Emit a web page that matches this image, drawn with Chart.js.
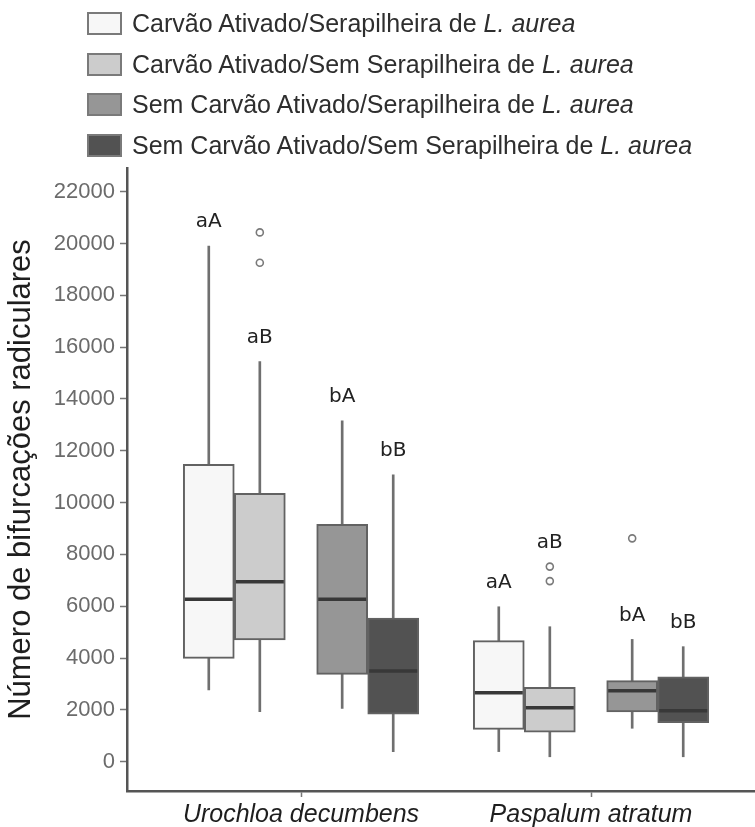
<!DOCTYPE html>
<html lang="pt">
<head>
<meta charset="utf-8">
<title>Bifurcações radiculares</title>
<script src="https://cdn.jsdelivr.net/npm/chart.js@4.4.1/dist/chart.umd.min.js"></script>
<style>
  html, body { margin: 0; padding: 0; background: #fff; }
  body { width: 755px; height: 827px; position: relative; overflow: hidden; font-family: "Liberation Sans", Arial, sans-serif; }
  #chart-wrap { position: absolute; left: 0; top: 0; width: 755px; height: 827px; }
  #legend { position: absolute; left: 87px; top: 12px; margin: 0; padding: 0; list-style: none; }
  #legend li { display: flex; align-items: center; height: 23px; margin-bottom: 17.6px; font-size: 25px; color: #2e2e2e; white-space: nowrap; }
  #legend .swatch { width: 35px; height: 23px; box-sizing: border-box; border: 2px solid #7a7a7a; margin-right: 10px; flex: none; }
</style>
</head>
<body>
<div id="chart-wrap"><canvas id="chart"></canvas></div>
<ul id="legend"></ul>

<script>
// Species on the x axis
const species = ['Urochloa decumbens', 'Paspalum atratum'];

// Treatments (legend order)
const treatments = [
    'Carvão Ativado/Serapilheira de',
    'Carvão Ativado/Sem Serapilheira de',
    'Sem Carvão Ativado/Serapilheira de',
    'Sem Carvão Ativado/Sem Serapilheira de'
];

// Box statistics per treatment, one value per species
const whiskerLow  = [[2770, 390], [1930, 190], [2060, 1290], [390, 190]];
const q1Values    = [[3990, 1250], [4700, 1140], [3370, 1920], [1830, 1510]];
const medianValues = [[6270, 2660], [6950, 2080], [6270, 2740], [3500, 1970]];
const q3Values    = [[11480, 4670], [10360, 2870], [9160, 3130], [5540, 3280]];
const whiskerHigh = [[19900, 5980], [15440, 5210], [13160, 4720], [11070, 4440]];
const outliers    = [[[], []], [[20430, 19260], [7530, 6970]], [[], [8620]], [[], []]];

// Significance letters above each box
const letters = [['aA', 'aA'], ['aB', 'aB'], ['bA', 'bA'], ['bB', 'bB']];

const yTicks = [0, 2000, 4000, 6000, 8000, 10000, 12000, 14000, 16000, 18000, 20000, 22000];

// Styling
const fills = ['#f7f7f7', '#cccccc', '#969696', '#525252'];
const dodge = [-0.318, -0.142, 0.142, 0.318];

const xAt = (t, c) => c + 1 + dodge[t];

// Legend (HTML so the species name can be italic)
const legendEl = document.getElementById('legend');
treatments.forEach((name, t) => {
    const li = document.createElement('li');
    li.innerHTML = `<span class="swatch" style="background:${fills[t]}"></span><span>${name} <i>L. aurea</i></span>`;
    legendEl.appendChild(li);
});

const datasets = [];
treatments.forEach((name, t) => {
    datasets.push({
        type: 'bar',
        label: name + ' whisker',
        data: species.map((_, c) => ({ x: xAt(t, c), y: [whiskerLow[t][c], whiskerHigh[t][c]] })),
        backgroundColor: '#6f6f6f',
        barThickness: 2,
        grouped: false,
        order: 3
    });
    datasets.push({
        type: 'bar',
        label: name,
        data: species.map((_, c) => ({ x: xAt(t, c), y: [q1Values[t][c], q3Values[t][c]] })),
        backgroundColor: fills[t],
        borderColor: '#626262',
        borderWidth: 2,
        borderSkipped: false,
        barThickness: 51,
        grouped: false,
        order: 2
    });
    datasets.push({
        type: 'scatter',
        label: name + ' median',
        data: species.map((_, c) => ({ x: xAt(t, c), y: medianValues[t][c] })),
        pointStyle: 'line',
        pointRadius: 24,
        borderColor: '#383838',
        borderWidth: 3.5,
        order: 1
    });
    const pts = [];
    species.forEach((_, c) => outliers[t][c].forEach(v => pts.push({ x: xAt(t, c), y: v })));
    datasets.push({
        type: 'scatter',
        label: name + ' outliers',
        data: pts,
        pointStyle: 'circle',
        pointRadius: 3.5,
        backgroundColor: '#ffffff',
        borderColor: '#7a7a7a',
        borderWidth: 1.6,
        order: 1
    });
});

// Letters sit above the upper whisker, or above close outliers
const letterPlugin = {
    id: 'letters',
    afterDatasetsDraw(chart) {
        const { ctx, scales } = chart;
        ctx.save();
        ctx.font = '20px "DejaVu Sans", sans-serif';
        ctx.fillStyle = '#222';
        ctx.textAlign = 'center';
        ctx.textBaseline = 'middle';
        letters.forEach((row, t) => {
            row.forEach((txt, c) => {
                let anchor = whiskerHigh[t][c];
                const above = outliers[t][c].filter(v => v > anchor);
                if (above.length && Math.max(...above) - anchor < 3000) {
                    anchor = Math.max(...above);
                }
                const x = scales.x.getPixelForValue(xAt(t, c));
                const y = scales.y.getPixelForValue(anchor) - 24;
                ctx.fillText(txt, x, y);
            });
        });
        ctx.restore();
    }
};

new Chart(document.getElementById('chart'), {
    type: 'bar',
    data: { datasets },
    plugins: [letterPlugin],
    options: {
        responsive: true,
        maintainAspectRatio: false,
        animation: false,
        events: [],
        layout: { autoPadding: false, padding: { top: 168, left: 0, right: 0, bottom: 0 } },
        plugins: {
            legend: { display: false },
            tooltip: { enabled: false }
        },
        scales: {
            x: {
                type: 'linear',
                offset: false,
                min: 0.4,
                max: 2.5655,
                afterBuildTicks: (scale) => {
                    scale.ticks = species.map((_, i) => ({ value: i + 1 }));
                },
                afterFit: (scale) => {
                    scale.height = 36;
                    scale.paddingLeft = 0;
                    scale.paddingRight = 0;
                },
                ticks: {
                    callback: (v) => species[v - 1],
                    color: '#1e1e1e',
                    font: { family: '"Liberation Sans", Arial, sans-serif', size: 25, style: 'italic' },
                    padding: 3,
                    maxRotation: 0,
                    autoSkip: false
                },
                grid: { offset: false, drawOnChartArea: false, tickLength: 6, tickColor: '#777', tickWidth: 1.5 },
                border: { display: true, color: '#555', width: 2.5 }
            },
            y: {
                min: -1131,
                max: 22915,
                afterBuildTicks: (scale) => {
                    scale.ticks = yTicks.map(v => ({ value: v }));
                },
                afterFit: (scale) => { scale.width = 127; },
                ticks: {
                    callback: (v) => String(v),
                    color: '#6b6b6b',
                    font: { family: '"Liberation Sans", Arial, sans-serif', size: 22 },
                    padding: 5
                },
                grid: { drawOnChartArea: false, tickLength: 7, tickColor: '#777', tickWidth: 1.5 },
                border: { display: true, color: '#555', width: 2.5 },
                title: {
                    display: true,
                    text: 'Número de bifurcações radiculares',
                    color: '#1e1e1e',
                    font: { family: '"Liberation Sans", Arial, sans-serif', size: 31 },
                    padding: { top: 3, bottom: 0 }
                }
            }
        }
    }
});
</script>
</body>
</html>
